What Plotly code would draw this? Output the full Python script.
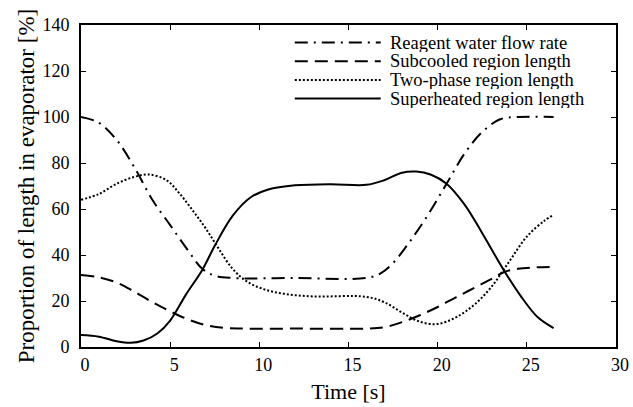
import plotly.graph_objects as go

# Reagent water flow rate [%]
flow_t = [0, 1, 2, 3, 4, 5, 6, 6.8, 7.5, 8.5, 12, 16, 16.8, 17.5, 18.5,
          19.5, 20.5, 21.5, 22.5, 23.5, 24.5, 26.5]
flow_v = [100, 97.5, 90, 78, 64, 53, 42, 34, 31, 30, 30, 30, 32, 36.5, 46.5,
          58, 71, 84, 93.5, 99, 100, 100]

# Subcooled region length [%]
sub_t = [0, 1, 2, 3, 4, 5, 6, 7, 8, 9, 12, 16, 17, 18, 19, 20, 21, 22, 23,
         23.7, 24.5, 25.5, 26.5]
sub_v = [31.3, 30.3, 28, 24, 19.5, 15.5, 12, 9.5, 8.3, 8, 8, 8, 8.6, 10.8,
         13.8, 17.4, 21.5, 25.5, 29.5, 32.5, 34, 34.6, 34.8]

# Two-phase region length [%]
two_t = [0, 1, 2, 3, 3.8, 4.8, 5.5, 6.3, 7, 7.7, 8.5, 9.3, 10.3, 11.5, 13,
         16, 17, 18, 19, 20, 21, 22, 23, 24, 25, 26, 26.5]
two_v = [64, 66.5, 71, 74, 75, 72.5, 67, 59, 51.5, 43, 34, 28.5, 25, 23, 22,
         21.8, 19.5, 15, 11, 10, 12.8, 18, 26, 37, 48, 55, 57.4]

# Superheated region length [%]
sup_t = [0, 1, 2, 2.8, 3.5, 4.3, 5, 5.9, 6.8, 7.5, 8.5, 9.5, 10.5, 12, 14,
         16, 17, 18, 18.8, 19.6, 20.5, 21.5, 22.5, 23.7, 24.7, 25.6, 26.5]
sup_v = [5.2, 4.5, 2.5, 1.8, 2.8, 6, 11.5, 23, 33.5, 44, 57, 65, 68.5, 70.3,
         70.8, 70.5, 72.5, 75.8, 76.3, 75, 71, 62, 49.5, 33.5, 21.7, 13, 8.2]

series_names = ["Reagent water flow rate", "Subcooled region length",
                "Two-phase region length", "Superheated region length"]
dashes = ["13px,6px,2px,6px", "13px,7px", "2px,2px", "solid"]

x_ticks = [0, 5, 10, 15, 20, 25, 30]
y_ticks = [0, 20, 40, 60, 80, 100, 120, 140]

W, H = 633, 407
ML, MR, MT, MB = 81, 4, 25, 60
FONT = "Liberation Serif, Times New Roman, serif"

fig = go.Figure()
for (t, v), name, dash in zip([(flow_t, flow_v), (sub_t, sub_v),
                               (two_t, two_v), (sup_t, sup_v)],
                              series_names, dashes):
    fig.add_trace(go.Scatter(
        x=t, y=v, mode="lines", name=name,
        line=dict(color="black", width=2, dash=dash,
                  shape="spline", smoothing=1.0),
    ))

# Hand-drawn legend with long line samples
pw = W - ML - MR
ph = H - MT - MB


def px_x(p):
    return (p - ML) / pw


def px_y(p):
    return (H - MB - p) / ph


row_y = [42.5, 61.2, 79.9, 98.6]
for name, dash, yy in zip(series_names, dashes, row_y):
    fig.add_shape(type="line", xref="paper", yref="paper",
                  x0=px_x(300), x1=px_x(388), y0=px_y(yy), y1=px_y(yy),
                  line=dict(color="black", width=2, dash=dash))
    fig.add_annotation(xref="paper", yref="paper", x=px_x(396), y=px_y(yy),
                       text=name, showarrow=False, xanchor="left",
                       yanchor="middle", align="left", borderpad=0,
                       width=215, height=18,
                       font=dict(family=FONT, size=18.5, color="black"))

axis_common = dict(
    showline=True, linecolor="black", linewidth=2, mirror="ticks",
    ticks="inside", ticklen=5, tickwidth=1, tickcolor="black",
    showgrid=False, zeroline=False,
    tickfont=dict(family=FONT, size=18, color="black"),
)

fig.update_layout(
    width=W, height=H,
    margin=dict(l=ML, r=MR, t=MT, b=MB),
    paper_bgcolor="white", plot_bgcolor="white",
    showlegend=False,
    xaxis=dict(range=[0, 30], tickvals=x_ticks, ticklabelstandoff=0,
               ticklabelshift=4, ticklabeloverflow="allow",
               title=dict(text="Time [s]", standoff=10,
                          font=dict(family=FONT, size=22, color="black")),
               **axis_common),
    yaxis=dict(range=[0, 140], tickvals=y_ticks, ticklabelstandoff=6,
               title=dict(text="Proportion of length in evaporator [%]",
                          standoff=1,
                          font=dict(family=FONT, size=23, color="black")),
               **axis_common),
)

fig.write_html("out.html")
